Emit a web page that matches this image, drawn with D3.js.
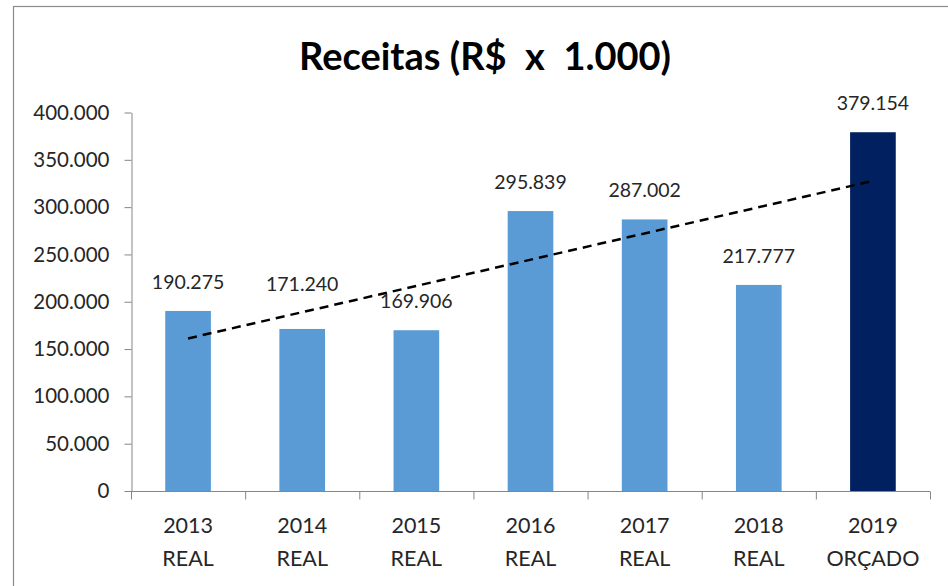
<!DOCTYPE html>
<html>
<head>
<meta charset="utf-8">
<script src="https://cdn.jsdelivr.net/npm/d3@7"></script>
<style>
  body { margin: 0; background: #fff; }
  svg text { font-family: Lato, "Open Sans", sans-serif; fill: #262626; }
  .axis .domain, .axis line { stroke: #868686; }
</style>
</head>
<body>
<div class="chart"></div>
<script>
const years = ['2013', '2014', '2015', '2016', '2017', '2018', '2019'];
const kinds = ['REAL', 'REAL', 'REAL', 'REAL', 'REAL', 'REAL', 'ORÇADO'];
const receitas = [190275, 171240, 169906, 295839, 287002, 217777, 379154];
const yTickValues = [0, 50000, 100000, 150000, 200000, 250000, 300000, 350000, 400000];

const w = 948, h = 586;
const margin = {top: 112.5, right: 18, bottom: 95, left: 131};

const fmt = d => d3.format(',')(d).replace(/,/g, '.');

const svg = d3.select('.chart').append('svg')
  .attr('width', w)
  .attr('height', h);

// chart frame
svg.append('rect')
  .attr('x', 13.5).attr('y', 6.5)
  .attr('width', 1000).attr('height', 1000)
  .attr('fill', 'none')
  .attr('stroke', '#8c8c8c')
  .attr('stroke-width', 1.2);

svg.append('text')
  .attr('x', 485).attr('y', 70)
  .attr('text-anchor', 'middle')
  .style('font-size', '38px')
  .style('font-weight', 'bold')
  .style('fill', '#000')
  .style('white-space', 'pre')
  .text('Receitas (R$  x  1.000)');

const xScale = d3.scaleBand()
  .domain(years)
  .range([margin.left, w - margin.right])
  .paddingInner(0.6)
  .paddingOuter(0.3);

const yScale = d3.scaleLinear()
  .domain([0, 400000])
  .range([h - margin.bottom, margin.top]);

// y axis
const yaxis = svg.append('g')
  .attr('class', 'y axis')
  .attr('transform', 'translate(' + (margin.left + 0.5) + ',0)')
  .call(d3.axisLeft(yScale)
    .tickValues(yTickValues)
    .tickSizeOuter(0)
    .tickSizeInner(7)
    .tickPadding(15)
    .tickFormat(fmt));
yaxis.selectAll('text').style('font-size', '20.5px');

// x axis: ticks between categories
const xaxis = svg.append('g')
  .attr('class', 'x axis')
  .attr('transform', 'translate(0,' + (h - margin.bottom + 0.5) + ')');
xaxis.append('line')
  .attr('x1', margin.left).attr('x2', w - margin.right);
const step = xScale.step();
const bounds = d3.range(years.length + 1).map(i => margin.left + 0.5 + i * step);
xaxis.selectAll('.tk').data(bounds).enter().append('line')
  .attr('class', 'tk')
  .attr('x1', d => d).attr('x2', d => d)
  .attr('y1', 0).attr('y2', 8);

const labels = svg.append('g').selectAll('text')
  .data(years).enter().append('text')
  .attr('text-anchor', 'middle')
  .attr('x', d => xScale(d) + xScale.bandwidth() / 2)
  .attr('y', h - margin.bottom + 42)
  .style('font-size', '21.5px');
labels.append('tspan').text(d => d);
labels.append('tspan')
  .attr('x', d => xScale(d) + xScale.bandwidth() / 2)
  .attr('dy', 33)
  .text((d, i) => kinds[i]);

// bars
svg.selectAll('.bar')
  .data(receitas).enter().append('rect')
  .attr('class', 'bar')
  .attr('x', (d, i) => xScale(years[i]))
  .attr('y', d => yScale(d))
  .attr('width', xScale.bandwidth())
  .attr('height', d => yScale(0) - yScale(d))
  .attr('fill', (d, i) => kinds[i] === 'ORÇADO' ? '#002060' : '#5b9bd5');

// linear trend line (least squares, like the spreadsheet trendline)
const n = receitas.length;
const mx = d3.mean(d3.range(n));
const my = d3.mean(receitas);
const slope = d3.sum(receitas, (d, i) => (i - mx) * (d - my)) / d3.sum(d3.range(n), i => (i - mx) * (i - mx));
const trend = d3.range(n).map(i => ({year: years[i], v: my + slope * (i - mx)}));
const trendEnds = [trend[0], trend[n - 1]];

svg.append('path')
  .datum(trendEnds)
  .attr('fill', 'none')
  .attr('stroke', '#000')
  .attr('stroke-width', 2.5)
  .attr('stroke-dasharray', '9,6')
  .attr('d', d3.line()
    .x(d => xScale(d.year) + xScale.bandwidth() / 2)
    .y(d => yScale(d.v)));

// value labels, lifted above the trend line when they would sit on it
svg.selectAll('.val')
  .data(receitas).enter().append('text')
  .attr('class', 'val')
  .attr('text-anchor', 'middle')
  .attr('x', (d, i) => xScale(years[i]) + xScale.bandwidth() / 2)
  .attr('y', (d, i) => {
    let y = yScale(d) - 22;
    const ty = yScale(trend[i].v);
    if (ty > y - 18 && ty < y + 6) y = ty - 21;
    return y;
  })
  .style('font-size', '19.5px')
  .text(fmt);
</script>
</body>
</html>
